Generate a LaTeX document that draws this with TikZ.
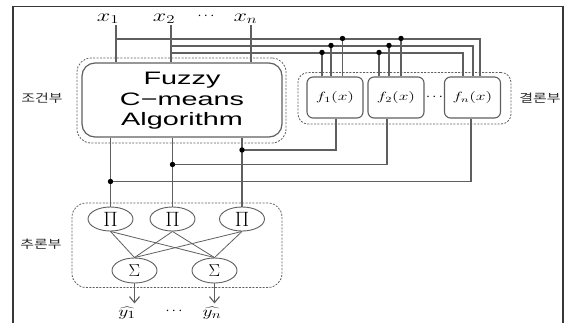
\documentclass[tikz,border=0pt]{standalone}
\usepackage{fontspec}
\usepackage{graphicx}
\usetikzlibrary{shapes.geometric,arrows.meta,calc}
\newfontfamily\krfont{Noto Sans CJK KR}
\newfontfamily\arfont{Liberation Sans}
\newcommand{\hs}[2]{\scalebox{#1}[1]{#2}}
\definecolor{linec}{RGB}{95,95,95}
\definecolor{framec}{RGB}{55,55,55}
\definecolor{krc}{RGB}{40,40,40}
\begin{document}
\begin{tikzpicture}[x=1pt,y=-1pt,
  conn/.style={draw=linec,line width=1.1pt},
  thinconn/.style={draw=linec,line width=0.8pt},
  dot/.style={circle,fill=black,inner sep=0pt,minimum size=5.4pt},
  dashbox/.style={draw=linec,line width=0.8pt,dash pattern=on 2pt off 1.4pt,inner sep=0pt},
  fcmbox/.style={draw=linec,line width=1.2pt,rounded corners=13pt,inner sep=0pt},
  fcmtext/.style={align=center,font=\fontsize{18}{20.5}\selectfont\arfont,inner sep=0pt},
  fbox/.style={draw=linec,line width=1.1pt,rounded corners=6pt,minimum width=56pt,minimum height=41pt,inner sep=0pt,font=\fontsize{11.5}{12}\selectfont},
  opnode/.style={ellipse,draw=linec,line width=0.9pt,inner sep=0pt,minimum width=45pt},
  xlab/.style={inner sep=0pt,font=\fontsize{17}{17}\selectfont,anchor=base},
  krlab/.style={inner sep=0pt,text=krc,font=\fontsize{11.5}{12}\selectfont\krfont},
  dotslab/.style={inner sep=0pt,font=\fontsize{14}{14}\selectfont},
  ylab/.style={inner sep=0pt,font=\fontsize{15}{15}\selectfont}
]
\useasboundingbox (0,0) rectangle (567,322);
% outer frame
\draw[framec,line width=1.3pt] (13,330) -- (13,6.5) -- (563,6.5) -- (563,330);

% group boxes
\node[dashbox,rounded corners=14pt,minimum width=209pt,minimum height=85pt] (condgrp) at (181.5,100.5) {};
\node[dashbox,rounded corners=10pt,minimum width=213pt,minimum height=51.5pt] (consgrp) at (404.5,98.25) {};
\node[dashbox,rounded corners=14pt,minimum width=210pt,minimum height=84.5pt] (infgrp) at (177,245.25) {};

% inputs
\node[xlab] (x1) at (108,21) {\hs{1.4}{$x_1$}};
\node[xlab] (x2) at (164,21) {\hs{1.4}{$x_2$}};
\node[xlab] (xn) at (245.5,21) {\hs{1.4}{$x_n$}};
\node[dotslab] (xdots) at (206,16) {$\cdots$};
\coordinate (x1b) at (116,25);
\coordinate (x2b) at (171,25);
\coordinate (xnb) at (251,25);

% FCM
\node[fcmbox,minimum width=200pt,minimum height=74pt] (fcm) at (182,100) {};
\node[fcmtext] (fcmt) at (182,101) {\hs{1.6}{Fuzzy}\\\hs{1.6}{C−means}\\\hs{1.6}{Algorithm}};

% consequent functions
\node[fbox] (f1) at (335,97.5) {\hs{1.45}{$f_1(x)$}};
\node[fbox] (f2) at (396,97.5) {\hs{1.45}{$f_2(x)$}};
\node[fbox] (fn) at (472.5,97.5) {\hs{1.45}{$f_n(x)$}};
\node[dotslab] (fdots) at (434.5,97) {$\cdots$};

% labels
\node[krlab] (lcond) at (42,98) {\hs{1.3}{조건부}};
\node[krlab] (lcons) at (540,98) {\hs{1.3}{결론부}};
\node[krlab] (linf) at (41,244) {\hs{1.3}{추론부}};

% inference nodes
\node[opnode,minimum height=24pt,font=\fontsize{22}{22}\selectfont] (p1) at (110.5,219) {$\Pi$};
\node[opnode,minimum height=24pt,font=\fontsize{22}{22}\selectfont] (p2) at (172.5,219) {$\Pi$};
\node[opnode,minimum height=24pt,font=\fontsize{22}{22}\selectfont] (p3) at (242,219) {$\Pi$};
\node[opnode,minimum height=25pt,font=\fontsize{19}{19}\selectfont] (s1) at (134.5,270.5) {$\Sigma$};
\node[opnode,minimum height=25pt,font=\fontsize{19}{19}\selectfont] (s2) at (214.5,270.5) {$\Sigma$};

% outputs
\node[ylab] (y1) at (127,313) {\hs{1.35}{$\widehat{y_1}$}};
\node[ylab] (yn) at (212,313) {\hs{1.35}{$\widehat{y_n}$}};
\node[dotslab] (ydots) at (174,311) {$\cdots$};
\coordinate (a1) at ($(s1.south)+(0,20)$);
\coordinate (a2) at ($(s2.south)+(0,20)$);
\draw[conn,-{Straight Barb[length=6pt,width=10pt]}] (s1.south) -- (a1);
\draw[conn,-{Straight Barb[length=6pt,width=10pt]}] (s2.south) -- (a2);

% input lines into FCM
\draw[conn] (x1b) -- (x1b |- fcm.north);
\draw[conn] (x2b) -- (x2b |- fcm.north);
\draw[conn] (xnb) -- (xnb |- fcm.north);

% input buses to consequents
\draw[conn] ($(x1b)+(0,14)$) -| ($(fn.north)+(7.5,0)$);
\draw[conn] ($(x2b)+(0,21)$) -| ($(fn.north)+(0.5,0)$);
\draw[conn] ($(x2b)+(0,28)$) -| ($(fn.north)+(-9.5,0)$);
\draw[conn] ($(f1.north)+(-13,0)$) -- ++(0,-24) node[dot]{};
\draw[conn] ($(f1.north)+(-4,0)$) -- ++(0,-31) node[dot]{};
\draw[conn] ($(f1.north)+(7.5,0)$) -- ++(0,-38) node[dot]{};
\draw[conn] ($(f2.north)+(-17,0)$) -- ++(0,-24) node[dot]{};
\draw[conn] ($(f2.north)+(-7,0)$) -- ++(0,-31) node[dot]{};
\draw[conn] ($(f2.north)+(5,0)$) -- ++(0,-38) node[dot]{};

% FCM to product nodes
\draw[conn] (fcm.south -| p1.north) -- (p1.north);
\draw[conn] (fcm.south -| p2.north) -- (p2.north);
\draw[conn] (fcm.south -| p3.north) -- (p3.north);

% consequent outputs to product nodes
\coordinate (j3) at (p3.north |- 0,150);
\coordinate (j2) at (p2.north |- 0,164.5);
\coordinate (j1) at (p1.north |- 0,181.5);
\draw[conn] ($(f1.south)+(1,0)$) |- (j3);
\draw[conn] ($(f2.south)+(-9,0)$) |- (j2);
\draw[conn] ($(fn.south)+(-1.5,0)$) |- (j1);
\node[dot] at (j3) {};
\node[dot] at (j2) {};
\node[dot] at (j1) {};

% product to sum
\foreach \p in {p1,p2,p3}{
  \foreach \s in {s1,s2}{
    \draw[thinconn] (\p.south) -- (\s.north);
  }
}
\end{tikzpicture}
\end{document}
